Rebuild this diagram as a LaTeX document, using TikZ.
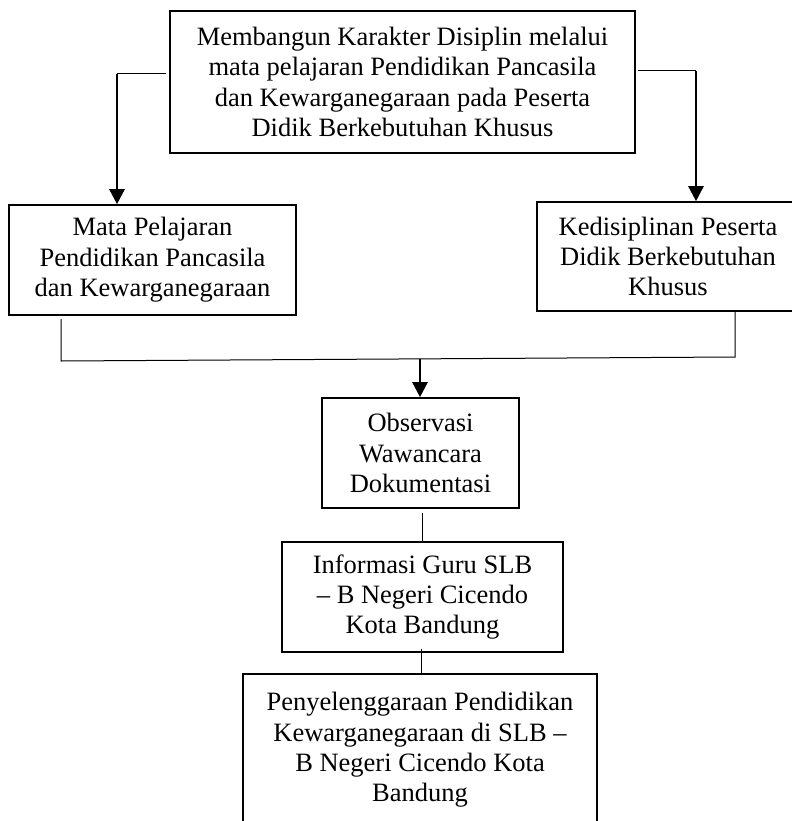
\documentclass[tikz,border=0pt]{standalone}
\usepackage{fontspec}
\setmainfont{Liberation Serif}
\usetikzlibrary{arrows.meta}
\begin{document}
\begin{tikzpicture}[x=1bp,y=-1bp,
  box/.style={draw, line width=1.6bp, align=center, font=\fontsize{26.6}{30.5}\selectfont, inner sep=0pt, anchor=center},
  thinline/.style={line width=1bp},
  arr/.style={line width=2.5bp, -{Triangle[width=15bp,length=15bp]}}]
\useasboundingbox (0,0) rectangle (792,821);
\clip (0,0) rectangle (792,821);
\fill[white] (0,0) rectangle (792,821);
% nodes
\node[box, minimum width=465bp, minimum height=142bp] (top) at (402.5,82)
  {Membangun Karakter Disiplin melalui\\mata pelajaran Pendidikan Pancasila\\dan Kewarganegaraan pada Peserta\\Didik Berkebutuhan Khusus};
\node[box, minimum width=287bp, minimum height=110bp] (left) at (152.5,260)
  {Mata Pelajaran\\Pendidikan Pancasila\\dan Kewarganegaraan};
\node[box, minimum width=262bp, minimum height=109bp] (right) at (668,256.5)
  {Kedisiplinan Peserta\\Didik Berkebutuhan\\Khusus};
\node[box, minimum width=197bp, minimum height=110bp] (obs) at (420.5,453)
  {Observasi\\Wawancara\\Dokumentasi};
\node[box, minimum width=281bp, minimum height=110bp] (info) at (422.5,597)
  {Informasi Guru SLB\\– B Negeri Cicendo\\Kota Bandung};
\node[box, minimum width=354bp, minimum height=152bp] (bot) at (420,750)
  {Penyelenggaraan Pendidikan\\Kewarganegaraan di SLB –\\B Negeri Cicendo Kota\\Bandung};
% top to left
\coordinate (ls) at (166,74);
\coordinate (lc) at (117,74);
\draw[thinline] (ls) -- (lc);
\draw[arr] (lc) -- (lc |- left.north);
% top to right
\coordinate (rs) at (638,71);
\coordinate (rc) at (696,71);
\draw[thinline] (rs) -- (rc);
\draw[arr] (rc) -- (rc |- right.north);
% merge
\coordinate (la) at (61,319);
\coordinate (lb) at (61,361);
\coordinate (rb) at (735,357);
\draw[thinline] (la) -- (lb) -- (rb) -- (rb |- right.south);
\coordinate (mc) at (420,359);
\draw[arr] (mc) -- (mc |- obs.north);
% obs to info
\coordinate (oa) at (422,513);
\draw[thinline] (oa) -- (oa |- info.north);
% info to bot
\coordinate (ia) at (421,649);
\draw[thinline] (ia) -- (ia |- bot.north);
\end{tikzpicture}
\end{document}
